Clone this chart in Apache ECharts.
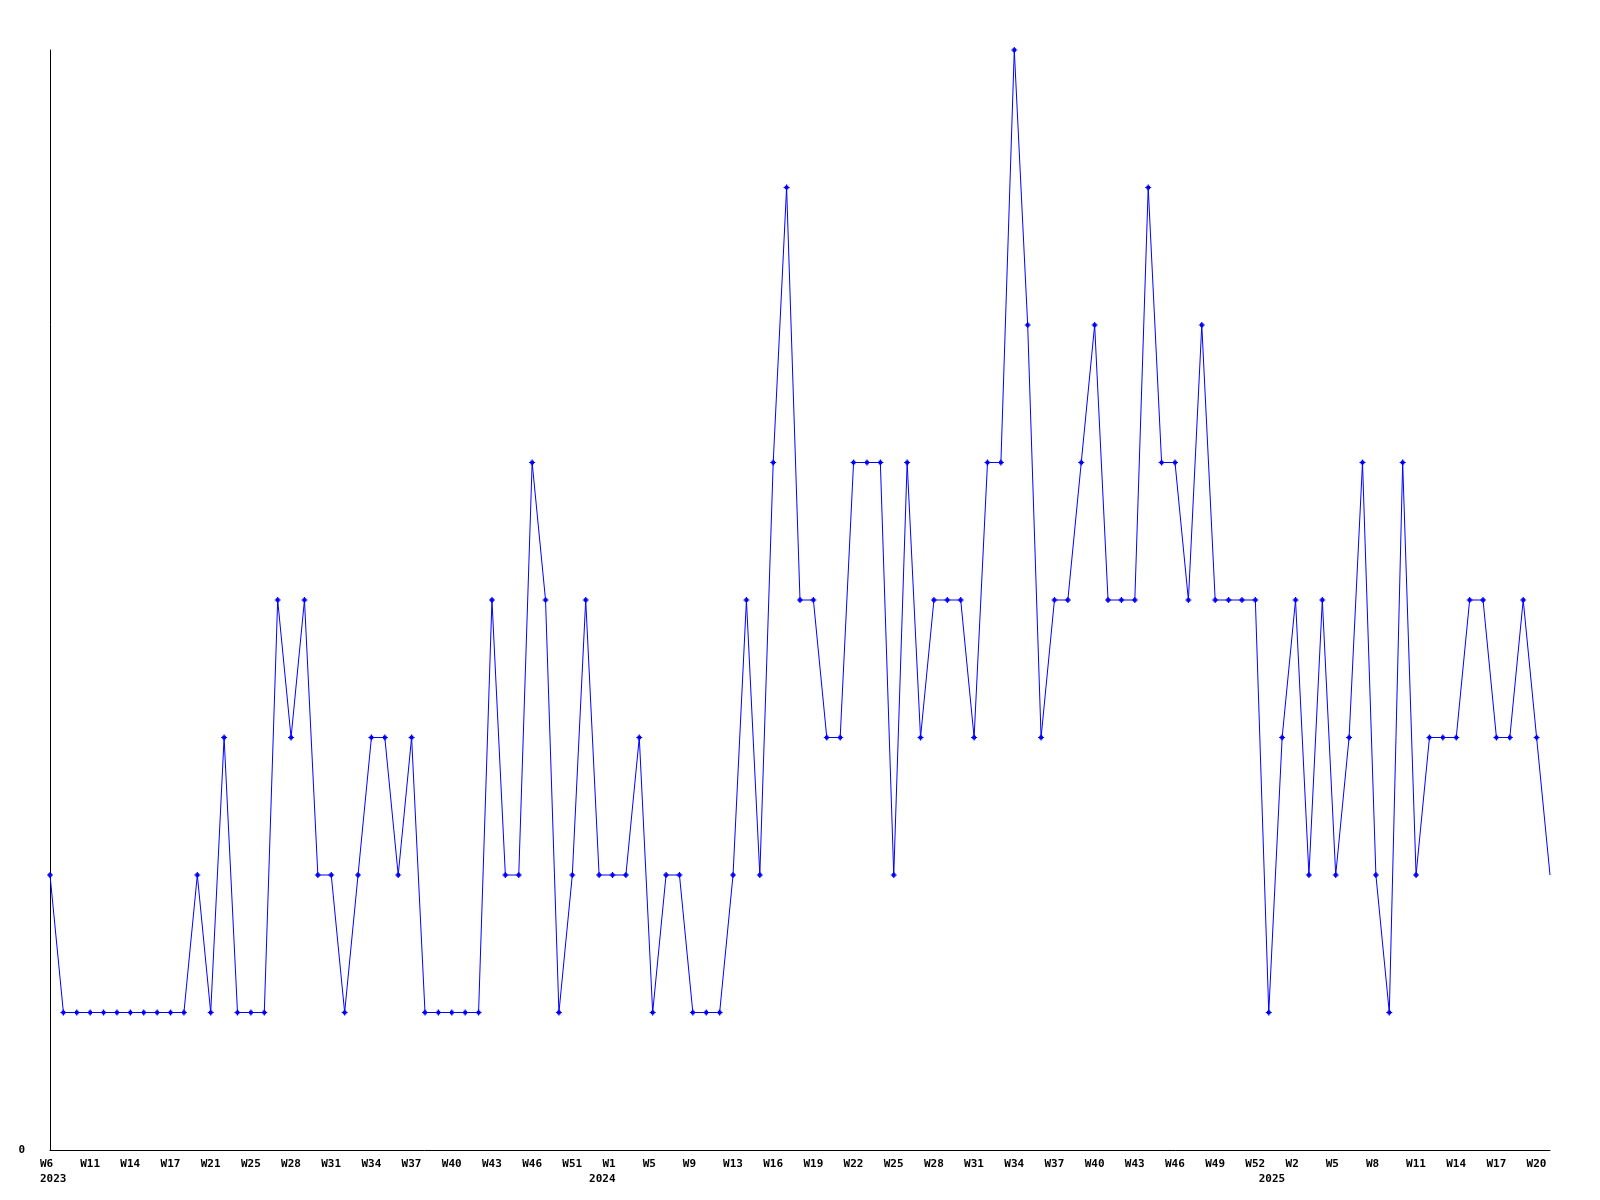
<!DOCTYPE html>
<html>
<head>
<meta charset="utf-8">
<script src="https://cdn.jsdelivr.net/npm/echarts@6/dist/echarts.min.js"></script>
<style>
  html, body { margin: 0; padding: 0; background: #ffffff; }
  #chart { width: 1600px; height: 1200px; }
</style>
</head>
<body>
<div id="chart"></div>
<script>
// Week numbers per year (category points, in order)
const weeks2023 = [6, 8, 9, 11, 12, 13, 14, 15, 16, 17, 18, 20, 21, 22, 24, 25, 26, 27, 28, 29, 30,
  31, 32, 33, 34, 35, 36, 37, 38, 39, 40, 41, 42, 43, 44, 45, 46, 48, 49, 51, 52];
const weeks2024 = [0, 1, 2, 4, 5, 6, 8, 9, 10, 12, 13, 14, 15, 16, 17, 18, 19, 20, 21, 22, 23, 24, 25,
  26, 27, 28, 29, 30, 31, 32, 33, 34, 35, 36, 37, 38, 39, 40, 41, 42, 43, 44, 45, 46, 47, 48, 49, 50, 51, 52];
const weeks2025 = [0, 1, 2, 3, 4, 5, 6, 7, 8, 9, 10, 11, 12, 13, 14, 15, 16, 17, 18, 19, 20, 21];

// Series values, one per category point
const values = [
  2, 1, 1, 1, 1, 1, 1, 1, 1, 1, 1, 2, 1, 3, 1, 1, 1, 4, 3, 4,
  2, 2, 1, 2, 3, 3, 2, 3, 1, 1, 1, 1, 1, 4, 2, 2, 5, 4, 1, 2,
  4, 2, 2, 2, 3, 1, 2, 2, 1, 1, 1, 2, 4, 2, 5, 7, 4, 4, 3, 3,
  5, 5, 5, 2, 5, 3, 4, 4, 4, 3, 5, 5, 8, 6, 3, 4, 4, 5, 6, 4,
  4, 4, 7, 5, 5, 4, 6, 4, 4, 4, 4, 1, 3, 4, 2, 4, 2, 3, 5, 2,
  1, 5, 2, 3, 3, 3, 4, 4, 3, 3, 4, 3, 2
];

// Y tick labels (only the zero is labelled)
const yTickLabels = ['0'];

const categories = []
  .concat(weeks2023.map(w => '2023-W' + w))
  .concat(weeks2024.map(w => '2024-W' + w))
  .concat(weeks2025.map(w => '2025-W' + w));

const yearStart = new Set();
categories.forEach((c, i) => {
  if (i === 0 || c.slice(0, 4) !== categories[i - 1].slice(0, 4)) yearStart.add(i);
});

const font = { fontFamily: 'DejaVu Sans Mono', fontWeight: 'bold', fontSize: 11, color: '#000000' };

const chart = echarts.init(document.getElementById('chart'), null, { renderer: 'canvas' });
chart.setOption({
  animation: false,
  backgroundColor: '#ffffff',
  grid: { left: 50, right: 50, top: 50, bottom: 50, containLabel: false, outerBoundsMode: 'none' },
  xAxis: [
    {
      type: 'category',
      data: categories,
      boundaryGap: false,
      position: 'bottom',
      axisLine: { show: true, lineStyle: { color: '#000000', width: 1 } },
      axisTick: { show: false },
      splitLine: { show: false },
      axisLabel: Object.assign({
        interval: 2,
        margin: 9,
        align: 'left',
        padding: [0, 0, 0, -10],
        formatter: v => v.split('-')[1]
      }, font)
    },
    {
      type: 'category',
      data: categories,
      boundaryGap: false,
      position: 'bottom',
      axisLine: { show: false },
      axisTick: { show: false },
      splitLine: { show: false },
      axisLabel: Object.assign({
        interval: (i) => yearStart.has(i),
        margin: 24,
        align: 'left',
        padding: [0, 0, 0, -10],
        formatter: v => v.slice(0, 4)
      }, font)
    }
  ],
  yAxis: {
    type: 'value',
    min: 0,
    max: 8,
    interval: 8,
    axisLine: { show: true, lineStyle: { color: '#000000', width: 1 } },
    axisTick: { show: false },
    splitLine: { show: false },
    axisLabel: Object.assign({
      margin: 25,
      formatter: v => (v === 0 ? yTickLabels[0] : '')
    }, font)
  },
  series: [{
    type: 'line',
    xAxisIndex: 0,
    data: values,
    showAllSymbol: true,
    symbol: 'path://M2,0H3V1H4V2H5V3H4V4H3V5H2V4H1V3H0V2H1V1H2Z',
    symbolSize: (v, p) => (p.dataIndex === values.length - 1 ? 0 : 6),
    itemStyle: { color: '#0000ff' },
    lineStyle: { color: '#0000ff', width: 1 },
    emphasis: { disabled: true }
  }]
});
</script>
</body>
</html>
